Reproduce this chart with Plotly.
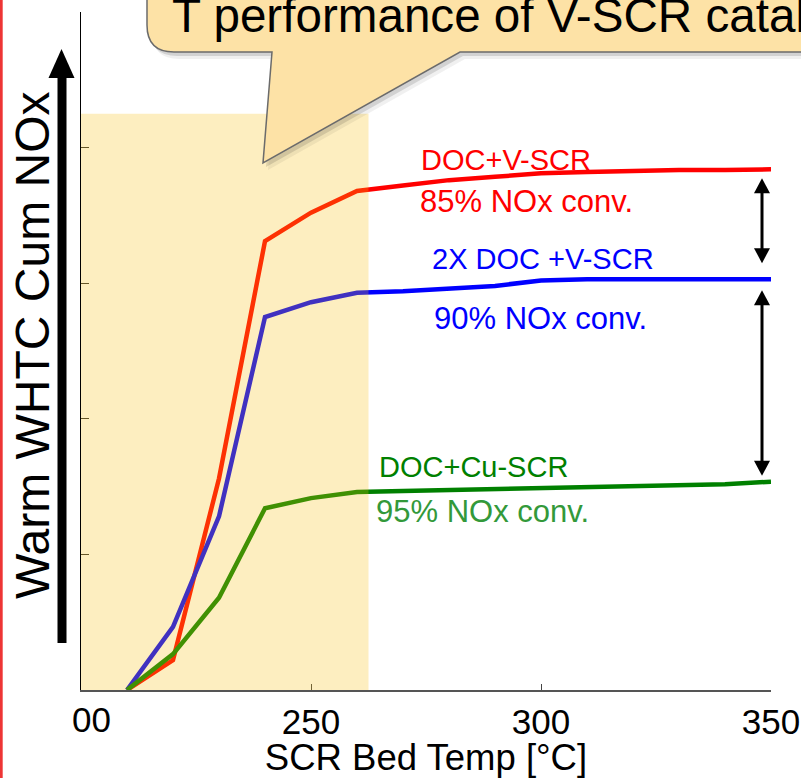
import plotly.graph_objects as go

# Bed temperature grid [°C] and cumulative NOx curves (arbitrary units)
temp_c = [210, 220, 230, 240, 250, 260, 270, 280, 290, 300, 310, 320, 330, 340, 350]
doc_v_scr = [0, 0.22, 1.56, 3.31, 3.52, 3.68, 3.72, 3.76, 3.785, 3.81, 3.82, 3.83, 3.835, 3.835, 3.84]
doc2x_v_scr = [0, 0.465, 1.28, 2.75, 2.86, 2.93, 2.94, 2.96, 2.98, 3.02, 3.03, 3.03, 3.03, 3.03, 3.03]
doc_cu_scr = [0, 0.265, 0.68, 1.34, 1.415, 1.46, 1.467, 1.475, 1.48, 1.49, 1.497, 1.50, 1.507, 1.517, 1.536]

x_ticks = [200, 250, 300, 350]
x_tick_labels = ["", "250", "300", "350"]
y_ticks = [0, 1, 2, 3, 4, 5]

# low-temperature window highlighted on the chart
window_x = (200, 262.5)
window_top = 4.25

FONT = "Liberation Sans, Arial, Helvetica, sans-serif"
W, H = 801, 778
L, R, T, B = 81, 30, 12, 88
PL, PR, PT, PB = L, W - R, T, H - B
Y_MAX = 5


def px(x):
    """pixel column -> paper x"""
    return (x - PL) / (PR - PL)


def py(y):
    """pixel row -> paper y"""
    return (PB - y) / (PB - PT)


def val_row(v):
    """data y value -> pixel row"""
    return PB - v / Y_MAX * (PB - PT)


def path(points, close=True):
    out = []
    for cmd, *xy in points:
        coords = " ".join(f"{px(xy[i]):.5f},{py(xy[i + 1]):.5f}" for i in range(0, len(xy), 2))
        out.append(f"{cmd} {coords}")
    return " ".join(out) + (" Z" if close else "")


fig = go.Figure()

series = [
    ("DOC+V-SCR", doc_v_scr, "#FF0000"),
    ("2X DOC +V-SCR", doc2x_v_scr, "#0000FF"),
    ("DOC+Cu-SCR", doc_cu_scr, "#008000"),
]
for name, ys, col in series:
    fig.add_trace(go.Scatter(x=temp_c, y=ys, mode="lines", name=name,
                             line=dict(color=col, width=4.5),
                             showlegend=False, hoverinfo="skip"))

shapes = []

# red frame edge on the left
shapes.append(dict(type="line", xref="paper", yref="paper",
                   x0=px(1.2), x1=px(1.2), y0=py(-5), y1=py(H + 5),
                   line=dict(color="#EE3535", width=3)))

# translucent highlight over the low-temperature window
shapes.append(dict(type="rect", xref="x", yref="y", layer="above",
                   x0=window_x[0], x1=window_x[1], y0=-0.02, y1=window_top,
                   fillcolor="rgba(247,190,13,0.26)", line=dict(width=0)))

# speech-bubble callout
bubble = [("M", 147, -40), ("L", 147, 25), ("Q", 147, 52, 174, 52), ("L", 272, 52),
          ("L", 263, 163), ("L", 460, 52), ("L", 850, 52), ("L", 850, -40)]


def shifted(pts, dx, dy):
    res = []
    for cmd, *xy in pts:
        res.append((cmd, *[v + (dx if i % 2 == 0 else dy) for i, v in enumerate(xy)]))
    return res


for (dx, dy), a in [((5, 7), 0.06), ((3, 4), 0.12)]:
    shapes.append(dict(type="path", xref="paper", yref="paper", layer="above",
                       path=path(shifted(bubble, dx, dy)),
                       fillcolor=f"rgba(0,0,0,{a})", line=dict(width=0)))
shapes.append(dict(type="path", xref="paper", yref="paper", layer="above",
                   path=path(bubble), fillcolor="#FDE2A6",
                   line=dict(color="#6B6B6B", width=1.5)))

# big "increasing" arrow beside the y axis
shapes.append(dict(type="rect", xref="paper", yref="paper",
                   x0=px(57.5), x1=px(66.5), y0=py(643), y1=py(76),
                   fillcolor="black", line=dict(width=0)))
shapes.append(dict(type="path", xref="paper", yref="paper",
                   path=path([("M", 48.5, 78), ("L", 74.5, 78), ("L", 61.5, 49)]),
                   fillcolor="black", line=dict(width=0)))


def double_arrow(x, top, bottom, half=8, head=15):
    items = [dict(type="line", xref="paper", yref="paper",
                  x0=px(x), x1=px(x), y0=py(top + head - 2), y1=py(bottom - head + 2),
                  line=dict(color="black", width=3))]
    items.append(dict(type="path", xref="paper", yref="paper",
                      path=path([("M", x, top), ("L", x - half, top + head), ("L", x + half, top + head)]),
                      fillcolor="black", line=dict(width=0)))
    items.append(dict(type="path", xref="paper", yref="paper",
                      path=path([("M", x, bottom), ("L", x - half, bottom - head), ("L", x + half, bottom - head)]),
                      fillcolor="black", line=dict(width=0)))
    return items


ax = 762
shapes += double_arrow(ax, val_row(doc_v_scr[-1]) + 9, val_row(doc2x_v_scr[-1]) - 16)
shapes += double_arrow(ax, val_row(doc2x_v_scr[-1]) + 11, val_row(doc_cu_scr[-1]) - 6)

annotations = []


def label(text, left, center_row, size, color):
    annotations.append(dict(text=text, xref="paper", yref="paper",
                            x=px(left), y=py(center_row), xanchor="left", yanchor="middle",
                            showarrow=False, font=dict(family=FONT, size=size, color=color)))


label("DOC+V-SCR", 419, 160, 29, "#FF0000")
label("85% NOx conv.", 418, 201, 31, "#FF0000")
label("2X DOC +V-SCR", 430, 259, 29, "#0000FF")
label("90% NOx conv.", 432, 318, 31, "#0000FF")
label("DOC+Cu-SCR", 377, 467, 29, "#008000")
label("95% NOx conv.", 374, 511, 31, "#33993A")

# callout heading (runs up to the right edge)
label("T performance of V-SCR catal", 170, 15, 47.6, "black")

# y-axis caption, rotated
annotations.append(dict(text="Warm WHTC Cum NOx", xref="paper", yref="paper",
                        x=px(32), y=py(345), xanchor="center", yanchor="middle",
                        textangle=-90, showarrow=False,
                        font=dict(family=FONT, size=48, color="black")))

# partially hidden first tick label
annotations.append(dict(text="00", xref="paper", yref="paper",
                        x=px(91), y=py(719), xanchor="center", yanchor="middle",
                        showarrow=False, font=dict(family=FONT, size=35, color="black")))

fig.update_layout(
    width=W, height=H,
    margin=dict(l=L, r=R, t=T, b=B, pad=0, autoexpand=False),
    paper_bgcolor="white", plot_bgcolor="white",
    shapes=shapes, annotations=annotations,
    font=dict(family=FONT, color="black"),
    xaxis=dict(range=[200, 350], tickvals=x_ticks, ticktext=x_tick_labels,
               automargin=False,
               showline=True, linecolor="#555555", linewidth=1.5,
               ticks="inside", ticklen=6, tickcolor="#444444", tickwidth=1,
               showgrid=False, zeroline=False,
               tickfont=dict(family=FONT, size=35, color="black"),
               title=dict(text="SCR Bed Temp [°C]", standoff=3,
                          font=dict(family=FONT, size=36.5, color="black"))),
    yaxis=dict(range=[0, Y_MAX], tickvals=y_ticks, showticklabels=False,
               automargin=False,
               showline=True, linecolor="black", linewidth=1,
               ticks="inside", ticklen=8, tickcolor="#333333", tickwidth=1,
               showgrid=False, zeroline=False),
)

fig.write_html("out.html")
